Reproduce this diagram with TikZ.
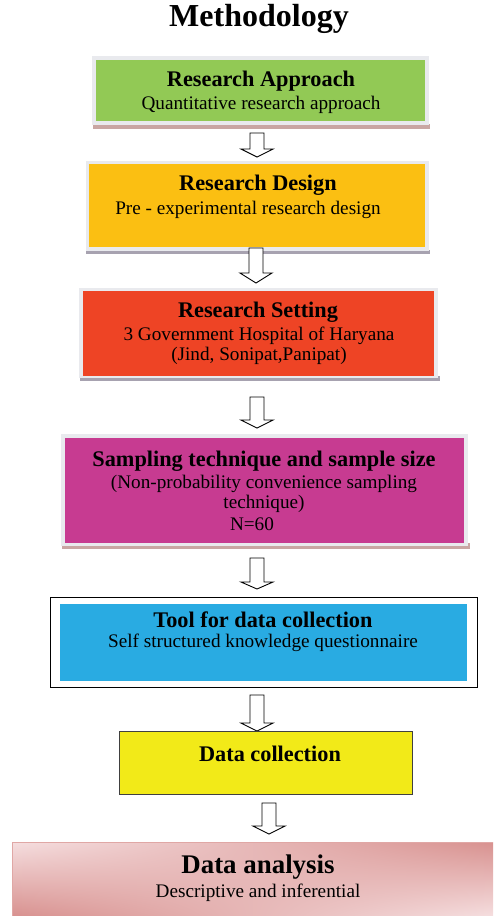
\documentclass[tikz,border=0pt]{standalone}
\usepackage{fontspec}
\setmainfont{Liberation Serif}
\usetikzlibrary{shadings}
\definecolor{cgreen}{HTML}{92C955}
\definecolor{corange}{HTML}{FBBF12}
\definecolor{cred}{HTML}{EE4425}
\definecolor{cmag}{HTML}{C73B91}
\definecolor{cblue}{HTML}{29ABE2}
\definecolor{cyellow}{HTML}{F2EA18}
\definecolor{cpinkl}{HTML}{F5DEDF}
\definecolor{cpinkd}{HTML}{D8918F}
\definecolor{cframe}{HTML}{E9EAEE}
\definecolor{cshadow}{HTML}{C9A6A3}
\definecolor{cshadowg}{HTML}{A7A2B0}
\tikzset{
  head/.style={font=\bfseries\fontsize{22.3}{25}\selectfont, inner sep=0pt},
  sub/.style={font=\fontsize{19.2}{20.5}\selectfont, inner sep=0pt, align=center},
  hollow/.style={draw=black, fill=white, line width=0.9pt, line join=miter},
}
\newcommand\hollowarrow[5]{% cx, top, headstart, tip, name
  \draw[hollow] (#1-7,#2) -- (#1+7,#2) -- (#1+7,#3) -- (#1+16,#3) -- (#1,#4) -- (#1-16,#3) -- (#1-7,#3) -- cycle;
  \coordinate (#5) at (#1,#4);
}
\begin{document}
\begin{tikzpicture}[x=1pt,y=-1pt]
\useasboundingbox (0,0) rectangle (493,916);
\fill[white] (0,0) rectangle (493,916);

\node[font=\bfseries\fontsize{32}{35}\selectfont, inner sep=0pt] (title) at (259,19) {Methodology};

% Box 1
\fill[cshadow] (93,124) rectangle (430,129);
\fill[cframe] (92,56) rectangle (429,125);
\fill[cgreen] (96,60) rectangle (425,121);
\node[head] (h1) at (261,81) {Research Approach};
\node[sub] (s1) at (261,105) {Quantitative research approach};

\hollowarrow{257}{133}{149}{157}{a1}

% Box 2
\fill[cshadowg] (86,250) rectangle (430,254);
\fill[cframe] (86,161) rectangle (429,251);
\fill[corange] (89,164) rectangle (425,247);
\node[head] (h2) at (258,185) {Research Design};
\node[sub] (s2) at (248,210) {Pre - experimental research design};

\hollowarrow{256}{248}{273}{283}{a2}

% Box 3
\fill[cshadowg] (80,376) rectangle (440,381);
\fill[cframe] (79,288) rectangle (438,378);
\fill[cred] (83,291) rectangle (434,376);
\node[head] (h3) at (258,312) {Research Setting};
\node[sub] (s3) at (259,346) {3 Government Hospital of Haryana\\(Jind, Sonipat,Panipat)};

\hollowarrow{257}{397}{420}{428}{a3}

% Box 4
\fill[cshadow] (62,543) rectangle (470,549);
\fill[cframe] (61,434) rectangle (468,546);
\fill[cmag] (65,438) rectangle (464,543);
\node[head] (h4) at (264,461) {Sampling technique and sample size};
\node[sub] (s4) at (264,494) {(Non-probability convenience sampling\\technique)};
\node[sub] (n4) at (252,524) {N=60};

\hollowarrow{257}{558}{582}{589}{a4}

% Box 5
\draw[black, line width=0.9pt] (50,597) rectangle (477,687);
\fill[cblue] (60,604) rectangle (467,681);
\node[head] (h5) at (263,620) {Tool for data collection};
\node[sub] (s5) at (263,643) {Self structured knowledge questionnaire};

\hollowarrow{257}{695}{723}{731}{a5}

% Box 6
\draw[fill=cyellow, draw=black!75, line width=0.9pt] (119,731) rectangle (412,794);
\node[head] (h6) at (270,754) {Data collection};

\hollowarrow{269}{803}{826}{834}{a6}

% Box 7
\shade[upper left=cpinkl, lower left=cpinkd, upper right=cpinkd, lower right=cpinkl] (12,842) rectangle (493,916);
\draw[cpinkd!80, line width=0.6pt] (12,916) -- (12,842) -- (493,842);
\node[head, font=\bfseries\fontsize{26.9}{29}\selectfont] (h7) at (258,867) {Data analysis};
\node[sub] (s7) at (258,893) {Descriptive and inferential};
\end{tikzpicture}
\end{document}
